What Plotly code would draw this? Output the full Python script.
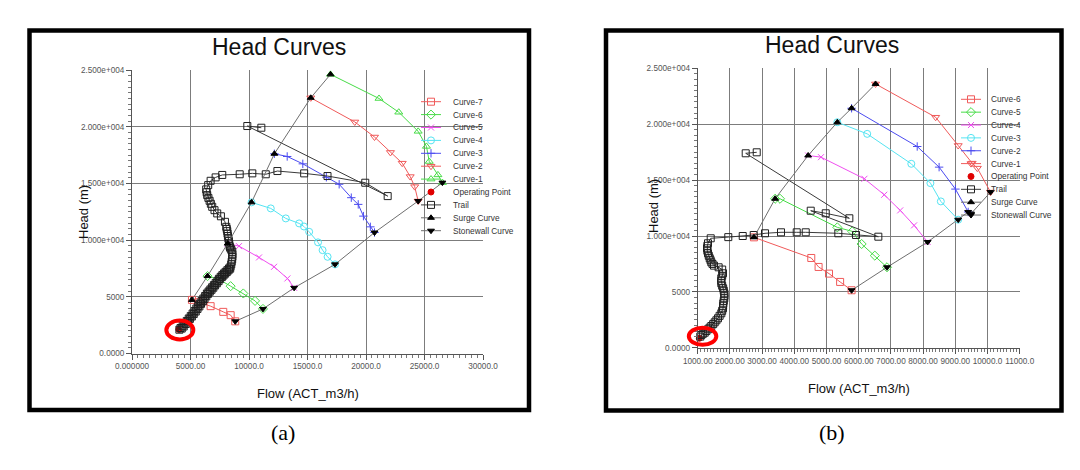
import plotly.graph_objects as go

W, H = 1080, 470

# ---------------- panel (a) data ----------------
a_curve1_x = [16967, 21112, 22800, 24458, 25168, 25405, 26146, 26530]
a_curve1_y = [24615, 22488, 21276, 19592, 18262, 16932, 15750, 15070]
a_curve2_x = [15279, 19040, 20727, 22089, 23096, 23777, 24162, 24458]
a_curve2_y = [22547, 20419, 19089, 17730, 16784, 15602, 14716, 13445]
a_curve3_x = [12170, 13265, 14598, 16611, 17707, 18743, 19335, 19779, 20372, 20727]
a_curve3_y = [17612, 17375, 16725, 15543, 14923, 13741, 13150, 12115, 11170, 10668]
a_curve4_x = [10215, 11861, 13146, 14286, 14700, 15143, 15900, 16289, 16718, 17352]
a_curve4_y = [13327, 12795, 11912, 11471, 11200, 10730, 9800, 9115, 8527, 7860]
a_curve5_x = [8172, 9144, 10858, 12144, 13284, 13858]
a_curve5_y = [9692, 9468, 8471, 7645, 6618, 5792]
a_curve6_x = [6455, 7491, 8430, 9513, 10516, 11193]
a_curve6_y = [6826, 6501, 5939, 5294, 4642, 3930]
a_curve7_x = [5123, 5656, 6719, 7799, 8433, 8824]
a_curve7_y = [4728, 4521, 4174, 3671, 3380, 2837]
a_surge_x = [5123, 6455, 8172, 10215, 12170, 15279, 16967]
a_surge_y = [4728, 6826, 9692, 13327, 17612, 22547, 24615]
a_stonewall_x = [8824, 11193, 13858, 17352, 20727, 24458, 26530]
a_stonewall_y = [2837, 3930, 5792, 7860, 10668, 13445, 15070]
a_op_x = [4002]
a_op_y = [2118]
a_trail_x = [4050, 4150, 4250, 4330, 4420, 4500, 4600, 4680, 4780, 4850, 4950, 5020,
             5120, 5180, 5280, 5350, 5450, 5500, 5600, 5650, 5760, 5800, 5900, 5950,
             6060, 6100, 6200, 6250, 6350, 6400, 6500, 6550, 6650, 6700, 6800, 6850,
             6950, 7000, 7100, 7150, 7250, 7300, 7400, 7430, 7530, 7580, 7680, 7720,
             7820, 7860, 7960, 8000, 8100, 8150, 8250, 8290, 8390, 8420, 8480, 8520,
             8560, 8580, 8580, 8570, 8500, 8430, 8380, 8345, 8310, 8287, 8240, 8201,
             8170, 8142, 8100, 8056, 7944, 7600, 7285, 7050, 6856, 6740, 6633, 6530,
             6428, 6380, 6342, 6513, 6719, 7148, 7714, 9204, 10284, 11433, 12428,
             14715, 16710, 19937, 21853, 9855, 11055]
a_trail_y = [2100, 2250, 2200, 2450, 2380, 2650, 2600, 2870, 2820, 3090, 3050, 3300,
             3260, 3530, 3480, 3750, 3700, 3970, 3930, 4190, 4150, 4410, 4380, 4630,
             4600, 4850, 4820, 5070, 5040, 5290, 5260, 5470, 5450, 5650, 5620, 5840,
             5800, 6030, 6000, 6220, 6190, 6410, 6380, 6590, 6560, 6760, 6740, 6910,
             6880, 7060, 7040, 7200, 7180, 7350, 7330, 7500, 7480, 7650, 7860, 8090,
             8300, 8530, 8750, 8970, 9120, 9250, 9360, 9468, 9690, 9909, 10130, 10350,
             10570, 10792, 10980, 11171, 11612, 12100, 12354, 12640, 12936, 13200,
             13465, 13720, 13968, 14220, 14470, 14850, 15230, 15530, 15745, 15804,
             15885, 15804, 16090, 15885, 15649, 15060, 13880, 20060, 19910]

# ---------------- panel (b) data ----------------
b_curve1_x = [6523, 8389, 9090, 9522, 9684, 10094]
b_curve1_y = [23600, 20624, 18094, 16517, 16070, 13928]
b_curve2_x = [5779, 7817, 8497, 9004, 9400]
b_curve2_y = [21427, 18005, 16160, 14196, 12150]
b_curve3_x = [5336, 6264, 7634, 8227, 8551, 9090]
b_curve3_y = [20177, 19136, 16457, 14731, 13094, 11458]
b_curve4_x = [4430, 4829, 6178, 6793, 7289, 7720, 8141]
b_curve4_y = [17201, 17052, 15118, 13690, 12291, 10952, 9464]
b_curve5_x = [3405, 3556, 5336, 5800, 6091, 6501, 6879]
b_curve5_y = [13332, 13332, 10773, 10416, 9285, 8244, 7202]
b_curve6_x = [2747, 4527, 4754, 5078, 5423, 5779]
b_curve6_y = [9880, 8035, 7232, 6636, 5892, 5148]
b_surge_x = [2747, 3405, 4430, 5336, 5779, 6523]
b_surge_y = [9880, 13332, 17201, 20177, 21427, 23600]
b_stonewall_x = [5779, 6879, 8141, 9090, 9400, 9490, 10094]
b_stonewall_y = [5148, 7202, 9464, 11458, 12150, 12000, 13928]
b_op_x = [1050]
b_op_y = [850]
b_trail_x = [1080, 1112, 1160, 1217, 1270, 1320, 1370, 1423, 1480, 1528, 1580, 1630,
             1680, 1733, 1760, 1786, 1790, 1795, 1810, 1826, 1830, 1826, 1810, 1790,
             1760, 1733, 1730, 1733, 1760, 1786, 1760, 1650, 1506, 1460, 1423, 1400,
             1373, 1345, 1320, 1300, 1289, 1300, 1320, 1404, 1950, 2398, 2740, 3090,
             3587, 4075, 4355, 5367, 5917, 6610, 4510, 4976, 5709, 2491, 2833]
b_trail_y = [1000, 1145, 1250, 1351, 1500, 1655, 1800, 1950, 2120, 2281, 2460, 2639,
             2860, 3086, 3310, 3533, 3760, 3980, 4200, 4428, 4650, 4875, 5100, 5322,
             5550, 5770, 5990, 6217, 6440, 6664, 7000, 7200, 7350, 7500, 7650, 7830,
             8006, 8230, 8453, 8680, 8900, 9120, 9348, 9795, 9900, 10000, 10090, 10242,
             10331, 10331, 10331, 10242, 10090, 9938, 12264, 12031, 11584, 17398, 17487]

# ---------------- tick labels ----------------
a_x_tickvals = [0, 5000, 10000, 15000, 20000, 25000, 30000]
a_x_ticktext = ["0.000000", "5000.00", "10000.0", "15000.0", "20000.0", "25000.0", "30000.0"]
b_x_tickvals = [1000, 2000, 3000, 4000, 5000, 6000, 7000, 8000, 9000, 10000, 11000]
b_x_ticktext = ["1000.00", "2000.00", "3000.00", "4000.00", "5000.00", "6000.00",
                "7000.00", "8000.00", "9000.00", "10000.0", "11000.0"]
y_tickvals = [0, 5000, 10000, 15000, 20000, 25000]
y_ticktext = ["0.0000", "5000", "1.000e+004", "1.500e+004", "2.000e+004", "2.500e+004"]

chart_title = "Head Curves"
x_title = "Flow (ACT_m3/h)"
y_title = "Head (m)"

# ---------------- styles ----------------
RED = "#f05a5a"
GREEN = "#48dc48"
MAGENTA = "#f04ef0"
CYAN = "#55e4f2"
BLUE = "#4b4bf0"
TRAIL = "#3a3a3a"
GUIDE = "#6e6e6e"
FONT = "Liberation Sans, Arial, sans-serif"

# (name, x, y, line colour, symbol, marker colour, size)
a_series = [
    ("Curve-7", a_curve7_x, a_curve7_y, RED, "square-open", RED, 7),
    ("Curve-6", a_curve6_x, a_curve6_y, GREEN, "diamond-open", GREEN, 7),
    ("Curve-5", a_curve5_x, a_curve5_y, MAGENTA, "x-thin-open", MAGENTA, 6),
    ("Curve-4", a_curve4_x, a_curve4_y, CYAN, "circle-open", CYAN, 7),
    ("Curve-3", a_curve3_x, a_curve3_y, BLUE, "cross-thin-open", BLUE, 6),
    ("Curve-2", a_curve2_x, a_curve2_y, RED, "triangle-down-open", RED, 7),
    ("Curve-1", a_curve1_x, a_curve1_y, GREEN, "triangle-up-open", GREEN, 7),
    ("Operating Point", a_op_x, a_op_y, None, "circle", "#e00000", 6),
    ("Trail", a_trail_x, a_trail_y, TRAIL, "square-open", "#202020", 7),
    ("Surge Curve", a_surge_x, a_surge_y, GUIDE, "triangle-up", "#000000", 6),
    ("Stonewall Curve", a_stonewall_x, a_stonewall_y, GUIDE, "triangle-down", "#000000", 6),
]
b_series = [
    ("Curve-6", b_curve6_x, b_curve6_y, RED, "square-open", RED, 7),
    ("Curve-5", b_curve5_x, b_curve5_y, GREEN, "diamond-open", GREEN, 7),
    ("Curve-4", b_curve4_x, b_curve4_y, MAGENTA, "x-thin-open", MAGENTA, 6),
    ("Curve-3", b_curve3_x, b_curve3_y, CYAN, "circle-open", CYAN, 7),
    ("Curve-2", b_curve2_x, b_curve2_y, BLUE, "cross-thin-open", BLUE, 6),
    ("Curve-1", b_curve1_x, b_curve1_y, RED, "triangle-down-open", RED, 7),
    ("Operating Point", b_op_x, b_op_y, None, "circle", "#e00000", 6),
    ("Trail", b_trail_x, b_trail_y, TRAIL, "square-open", "#202020", 7),
    ("Surge Curve", b_surge_x, b_surge_y, GUIDE, "triangle-up", "#000000", 6),
    ("Stonewall Curve", b_stonewall_x, b_stonewall_y, GUIDE, "triangle-down", "#000000", 6),
]

# plot-area geometry (pixels)
A_X_PX = (132, 483)
A_Y_PX = (353.5, 70)
B_X_PX = (697.7, 1019.7)
B_Y_PX = (347.8, 68.3)
A_XR = [0, 30000]
B_XR = [1000, 11000]
YR = [0, 25000]

fig = go.Figure()


def marker(symbol, color, size):
    return dict(symbol=symbol, size=size, color=color, line=dict(color=color, width=1))


def add_panel(series, xa, ya):
    for name, xs, ys, lc, sym, mc, sz in series:
        fig.add_trace(go.Scatter(
            x=xs, y=ys, xaxis=xa, yaxis=ya, name=name, showlegend=False,
            mode="markers" if lc is None else "lines+markers",
            line=dict(color=lc or mc, width=1),
            marker=marker(sym, mc, sz), cliponaxis=False))


add_panel(a_series, "x", "y")
add_panel(b_series, "x2", "y2")

annotations = []


def px_x(v):
    return v / W


def px_y(v):
    return 1 - v / H


def add_legend(series, line_x0, line_x1, text_x, top, gap):
    for i, (name, xs, ys, lc, sym, mc, sz) in enumerate(series):
        yy = top + i * gap
        if lc is not None:
            fig.add_trace(go.Scatter(x=[line_x0, line_x1], y=[yy, yy], xaxis="x3", yaxis="y3",
                                     mode="lines", line=dict(color=lc, width=1),
                                     showlegend=False, hoverinfo="skip"))
        fig.add_trace(go.Scatter(x=[(line_x0 + line_x1) / 2], y=[yy], xaxis="x3", yaxis="y3",
                                 mode="markers", marker=marker(sym, mc, sz if lc else 6),
                                 showlegend=False, hoverinfo="skip"))
        annotations.append(dict(x=px_x(text_x), y=px_y(yy), xref="paper", yref="paper",
                                text=name, showarrow=False, xanchor="left", yanchor="middle",
                                font=dict(family=FONT, size=8.3, color="#333333")))


add_legend(a_series, 421, 441, 451, 101.7, 12.9)
add_legend(b_series, 961, 981, 989, 99.3, 12.86)


def text(x, y, s, size, angle=0, family=FONT, color="#111111"):
    annotations.append(dict(x=px_x(x), y=px_y(y), xref="paper", yref="paper", text=s,
                            showarrow=False, xanchor="center", yanchor="middle",
                            textangle=angle, font=dict(family=family, size=size, color=color)))


text(279, 47, chart_title, 23)
text(832, 45, chart_title, 23)
text(308, 393, x_title, 13)
text(859, 388, x_title, 13)
text(83, 212, y_title, 13, angle=-90)
text(653, 206, y_title, 13, angle=-90)
text(283, 432, "(a)", 22, family="Liberation Serif, Times New Roman, serif", color="#000")
text(832, 432, "(b)", 22, family="Liberation Serif, Times New Roman, serif", color="#000")


def ring(xv, yv, xpx, ypx, xr, dx0, dx1, dy0, dy1):
    cx = xpx[0] + (xv - xr[0]) / (xr[1] - xr[0]) * (xpx[1] - xpx[0])
    cy = ypx[0] + (yv - YR[0]) / (YR[1] - YR[0]) * (ypx[1] - ypx[0])
    return dict(type="circle", xref="paper", yref="paper",
                x0=px_x(cx + dx0), x1=px_x(cx + dx1), y0=px_y(cy + dy1), y1=px_y(cy + dy0),
                line=dict(color="#ff0000", width=4))


shapes = [
    dict(type="rect", xref="paper", yref="paper", x0=px_x(29.5), x1=px_x(529),
         y0=px_y(410), y1=px_y(30.5), line=dict(color="black", width=4.5)),
    dict(type="rect", xref="paper", yref="paper", x0=px_x(606), x1=px_x(1061.5),
         y0=px_y(410.5), y1=px_y(30.5), line=dict(color="black", width=4.5)),
    ring(a_op_x[0], a_op_y[0], A_X_PX, A_Y_PX, A_XR, -12.5, 14.5, -9, 10),
    ring(b_op_x[0], b_op_y[0], B_X_PX, B_Y_PX, B_XR, -10.5, 17, -10.5, 6.5),
]

tickfont = dict(family=FONT, size=8.2, color="#555555")
GRID = "#7c7c7c"


def xaxis_cfg(xpx, rng, vals, txt, minor_dtick, anchor):
    return dict(domain=[xpx[0] / W, xpx[1] / W], range=rng, anchor=anchor, tickmode="array",
                tickvals=vals, ticktext=txt, ticks="outside", ticklen=5, tickcolor="#555555",
                tickangle=0, showline=True, linecolor="#555555", linewidth=1, showgrid=True,
                gridcolor=GRID, gridwidth=1, zeroline=False, tickfont=tickfont,
                automargin=False,
                minor=dict(tickmode="linear", tick0=0, dtick=minor_dtick, ticks="outside",
                           ticklen=3, tickcolor="#777777", showgrid=False),
                fixedrange=True)


def yaxis_cfg(ypx, anchor):
    return dict(domain=[1 - ypx[0] / H, 1 - ypx[1] / H], range=YR, anchor=anchor,
                tickmode="array", tickvals=y_tickvals, ticktext=y_ticktext, ticks="outside",
                ticklen=5, tickcolor="#555555", showline=True, linecolor="#555555",
                linewidth=1, showgrid=True, gridcolor=GRID, gridwidth=1, zeroline=False,
                tickfont=tickfont, automargin=False,
                minor=dict(tickmode="linear", tick0=0, dtick=500, ticks="outside",
                           ticklen=3, tickcolor="#777777", showgrid=False),
                fixedrange=True)


fig.update_layout(
    template="none",
    width=W, height=H, margin=dict(l=0, r=0, t=0, b=0, pad=0, autoexpand=False),
    paper_bgcolor="white", plot_bgcolor="rgba(0,0,0,0)", showlegend=False,
    xaxis=xaxis_cfg(A_X_PX, A_XR, a_x_tickvals, a_x_ticktext, 500, "y"),
    yaxis=yaxis_cfg(A_Y_PX, "x"),
    xaxis2=xaxis_cfg(B_X_PX, B_XR, b_x_tickvals, b_x_ticktext, 100, "y2"),
    yaxis2=yaxis_cfg(B_Y_PX, "x2"),
    xaxis3=dict(domain=[0, 1], range=[0, W], anchor="y3", visible=False, fixedrange=True,
                automargin=False),
    yaxis3=dict(domain=[0, 1], range=[H, 0], anchor="x3", visible=False, fixedrange=True,
                automargin=False),
    annotations=annotations, shapes=shapes,
)

fig.write_html("out.html")
